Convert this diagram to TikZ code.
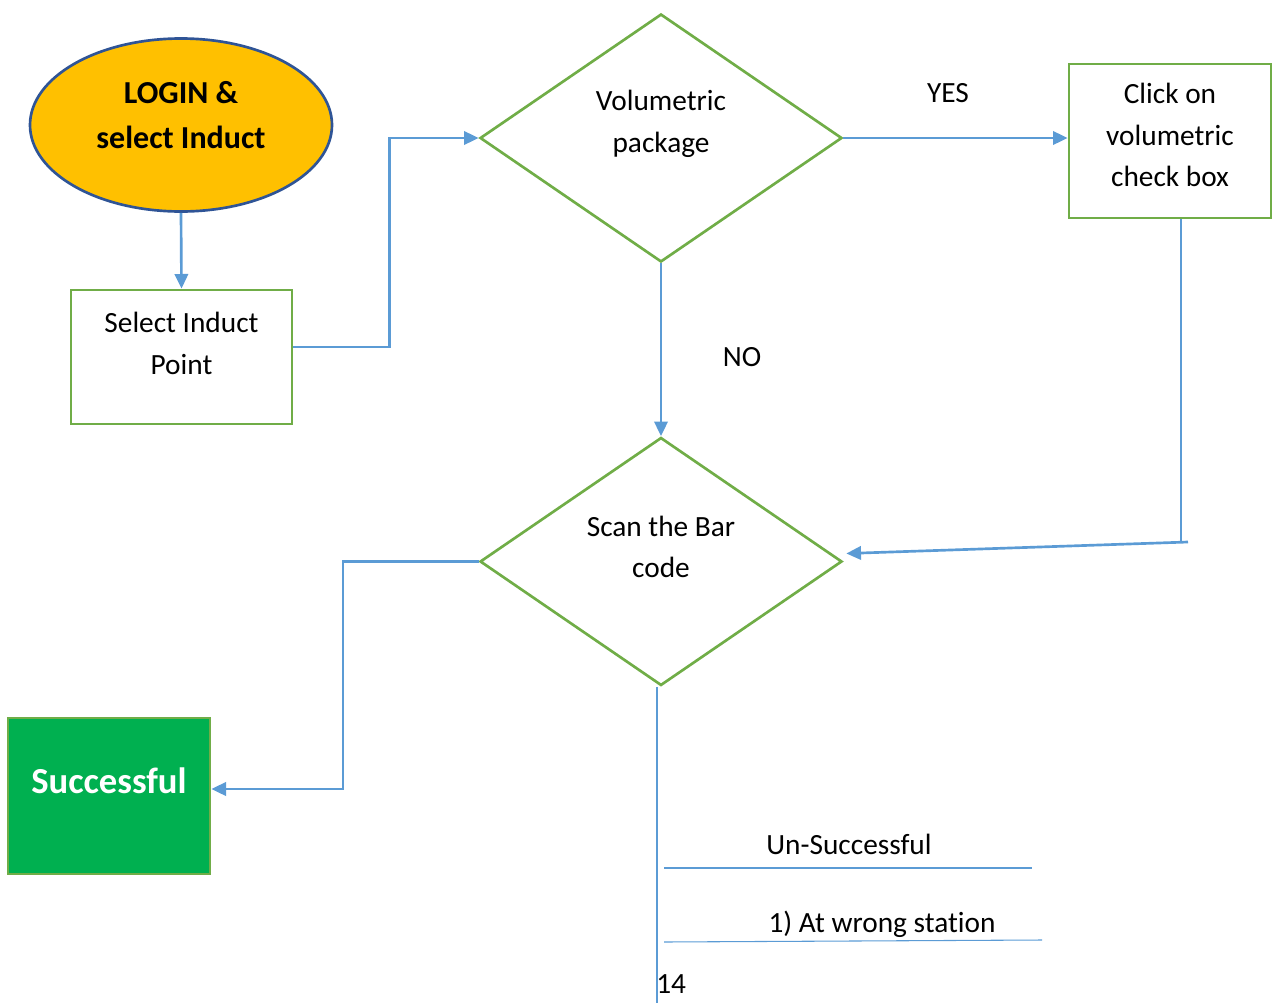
\documentclass[tikz,border=0pt]{standalone}
\usepackage{fontspec}
\setmainfont{Carlito}[Ligatures=NoCommon]
\usetikzlibrary{shapes.geometric,arrows.meta}
\definecolor{cblue}{HTML}{5B9BD5}
\definecolor{cgreen}{HTML}{70AD47}
\definecolor{cnavy}{HTML}{2F5496}
\definecolor{cyellow}{HTML}{FFC000}
\definecolor{csucc}{HTML}{00B050}
\tikzset{
  arr/.style={draw=cblue, line width=2pt, -{Triangle[length=11pt,width=10pt]}},
  thinblue/.style={draw=cblue, line width=0.8pt},
  gbox/.style={draw=cgreen, line width=2pt, rectangle, inner sep=0pt},
  gdia/.style={draw=cgreen, line width=2pt, diamond, inner sep=0pt, minimum width=271.5pt, minimum height=186pt},
  txt/.style={font=\fontsize{22}{31}\selectfont, align=center, inner sep=0pt},
}
\begin{document}
\begin{tikzpicture}[x=0.75pt,y=-0.75pt]
\useasboundingbox (0,0) rectangle (1274,1003);
% shapes
\node[ellipse, draw=cnavy, line width=2pt, fill=cyellow, minimum width=226.5pt, minimum height=129.75pt, inner sep=0pt] (ell) at (181,125) {};
\node[gbox, minimum width=165.75pt, minimum height=100.5pt] (sel) at (181.5,357) {};
\node[gdia] (d1) at (661,138) {};
\node[gbox, minimum width=151.5pt, minimum height=115.5pt] (click) at (1170,141) {};
\node[gdia] (d2) at (661,561.5) {};
\node[gbox, fill=csucc, minimum width=151.5pt, minimum height=117pt] (succ) at (109,796) {};
% texts
\node[txt, font=\fontsize{24}{33.75}\selectfont\bfseries] (tlogin) at (181,115) {LOGIN \&\\select Induct};
\node[txt, font=\fontsize{22}{31.5}\selectfont] (tsel) at (181.5,343) {Select Induct\\Point};
\node[txt, font=\fontsize{22}{31.5}\selectfont] (tvol) at (661,124) {Volumetric\\package};
\node[txt] (tclick) at (1170,135) {Click on\\volumetric\\check box};
\node[txt] (tscan) at (661,547) {Scan the Bar\\code};
\node[txt, font=\fontsize{27.5}{30}\selectfont\bfseries, text=white] (tsucc) at (109,781) {Successful};
\node[txt] (tyes) at (948,93) {YES};
\node[txt] (tno) at (742,357) {NO};
\node[txt] (tun) at (849,844) {Un-Successful};
\node[txt] (twrong) at (882,924) {1) At wrong station};
\node[txt, anchor=west] (tpage) at (656,984) {14};
% coordinates
\coordinate (k1) at (343,789);
\coordinate (cv) at (1181,543);
\coordinate (ch) at (1188,542);
\coordinate (bot) at (657,1003);
\coordinate (u1a) at (664,868);
\coordinate (u1b) at (1032,868);
\coordinate (u2a) at (664,942);
\coordinate (u2b) at (1042,940);
% connectors
\draw[arr] (ell.south) -- (sel.north);
\draw[arr] ([yshift=7.5pt]sel.east) -- ++(96,0) |- (d1.west);
\draw[arr] (d1.east) -- (d1.east -| click.west);
\draw[arr] (d1.south) -- (d2.north);
\draw[thinblue] (click.south -| cv) -- (cv);
\draw[arr] (ch) -- ([shift={(3,-8)}]d2.east);
\draw[arr] (d2.west) -| (k1) -- (k1 -| succ.east);
\draw[thinblue] (d2.south -| bot) -- (bot);
\draw[thinblue] (u1a) -- (u1b);
\draw[thinblue] (u2a) -- (u2b);
\end{tikzpicture}
\end{document}
